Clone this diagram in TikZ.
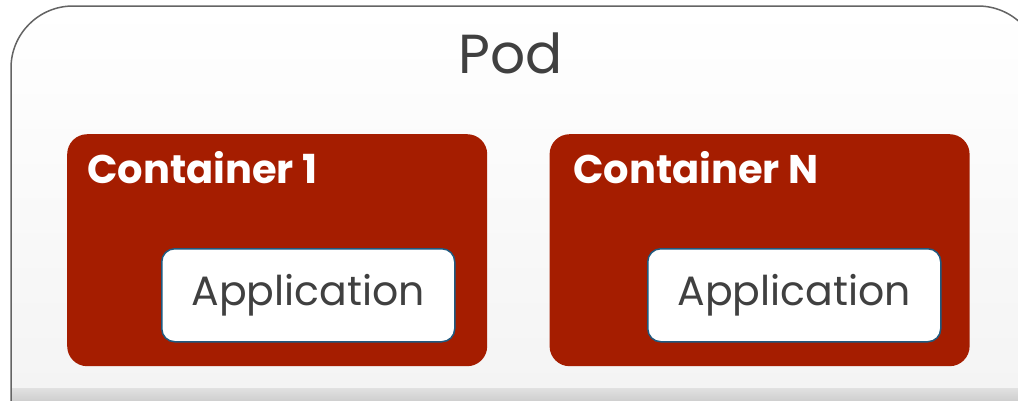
\documentclass[tikz,border=0pt]{standalone}
\usepackage{fontspec}
\setmainfont{Poppins}
\usetikzlibrary{positioning}
\definecolor{podline}{HTML}{646464}
\definecolor{podbot}{HTML}{F2F2F2}
\definecolor{contred}{HTML}{A51D00}
\definecolor{appline}{HTML}{1F5A80}
\definecolor{apptext}{HTML}{404040}
\tikzset{
    container/.style = {fill=contred, rounded corners=20pt, minimum width=420pt, minimum height=232pt, inner sep=0pt},
    app/.style = {draw=appline, line width=1.5pt, fill=white, rounded corners=13pt, minimum width=293pt, minimum height=93pt, inner sep=0pt,
                  text=apptext, font=\fontsize{41}{48}\selectfont},
    title/.style = {text=white, font=\fontsize{40}{46}\selectfont\bfseries, anchor=base west, inner sep=0pt}
}
\begin{document}
\begin{tikzpicture}[x=1pt, y=-1pt]
    \useasboundingbox (0,0) rectangle (1018,400);
    \clip (0,0) rectangle (1018,400);
    % pod background
    \shade [top color=white, bottom color=podbot, rounded corners=62pt] (11,6) rectangle (1040,460);
    \shade [top color=podbot!85!gray, bottom color=podbot!70!gray] (11,388) rectangle (1040,400);
    \draw [podline, line width=1.5pt, rounded corners=62pt] (11,460) -- (11,6) -- (1040,6) -- (1040,460);
    \node [text=apptext, font=\fontsize{55}{62}\selectfont, anchor=base] (pod) at (511,73) {Pod};
    % containers
    \node [container, anchor=north west] (c1) at (67,134) {};
    \node [container, right=62pt of c1] (cN) {};
    \node [title] (c1title) at (87,183) {Container 1};
    \node [title] (cNtitle) at (573,183) {Container N};
    % applications
    \node [app, anchor=north west] (app1) at (161,248) {Application};
    \node [app, anchor=north west] (appN) at (647,248) {Application};
\end{tikzpicture}
\end{document}
